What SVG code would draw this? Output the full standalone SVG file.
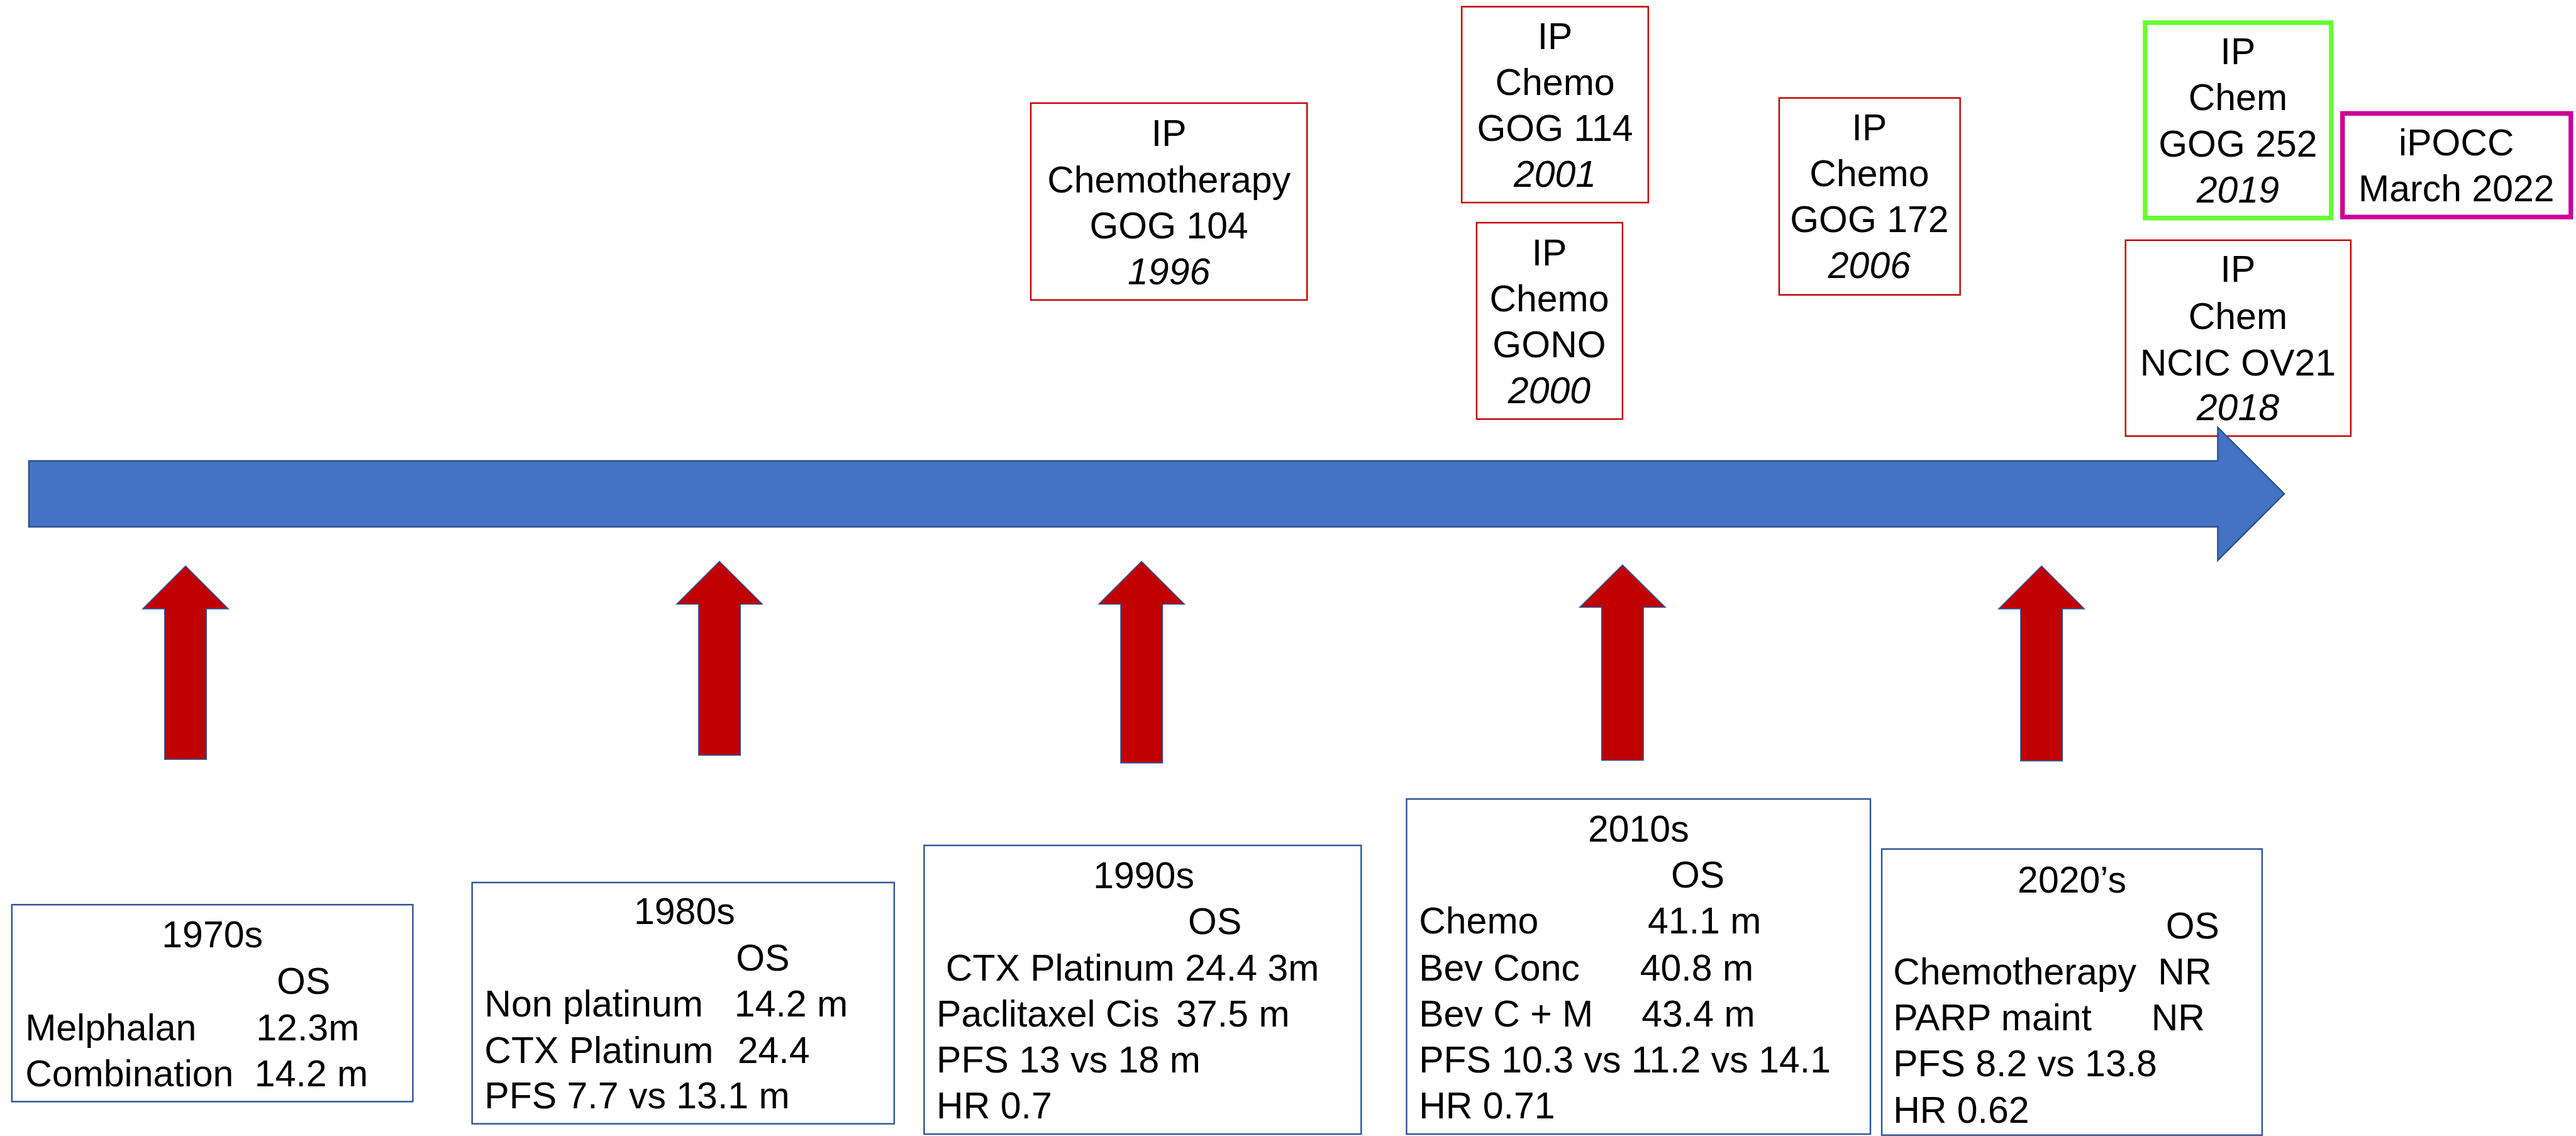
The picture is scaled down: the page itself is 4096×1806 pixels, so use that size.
<svg xmlns="http://www.w3.org/2000/svg" width="4096" height="1806" viewBox="0 0 4096 1806">
<style>
.t{font-family:"Liberation Sans",Arial,sans-serif;font-size:72px;fill:#000}
.m{text-anchor:middle}
.i{font-style:italic}
.rb{fill:#fff;stroke:#C00000;stroke-width:3}
.bb{fill:#fff;stroke:#2F5597;stroke-width:3}
.ra{fill:#C00000;stroke:#2F5597;stroke-width:2;stroke-linejoin:miter}
</style>
<rect width="4096" height="1806" fill="#fff"/>
<g transform="scale(0.819528)">
<g id="ip-gog104">
<rect class="rb" x="2000" y="200" width="536" height="382"/>
<text class="t m" x="2268" y="283">IP</text>
<text class="t m" x="2268" y="373">Chemotherapy</text>
<text class="t m" x="2268" y="462">GOG 104</text>
<text class="t m i" x="2268" y="552">1996</text>
</g>
<g id="ip-gog114">
<rect class="rb" x="2836" y="13" width="362" height="380"/>
<text class="t m" x="3017" y="95">IP</text>
<text class="t m" x="3017" y="184">Chemo</text>
<text class="t m" x="3017" y="273">GOG 114</text>
<text class="t m i" x="3017" y="362">2001</text>
</g>
<g id="ip-gono">
<rect class="rb" x="2865" y="432" width="283" height="381"/>
<text class="t m" x="3006" y="515">IP</text>
<text class="t m" x="3006" y="604">Chemo</text>
<text class="t m" x="3006" y="693">GONO</text>
<text class="t m i" x="3006" y="782">2000</text>
</g>
<g id="ip-gog172">
<rect class="rb" x="3452" y="190" width="351" height="382"/>
<text class="t m" x="3627" y="272">IP</text>
<text class="t m" x="3627" y="361">Chemo</text>
<text class="t m" x="3627" y="450">GOG 172</text>
<text class="t m i" x="3627" y="539">2006</text>
</g>
<g id="ip-gog252">
<rect x="4162" y="44" width="361" height="379" fill="#fff" stroke="#66FF33" stroke-width="9"/>
<text class="t m" x="4342" y="125">IP</text>
<text class="t m" x="4342" y="214">Chem</text>
<text class="t m" x="4342" y="304">GOG 252</text>
<text class="t m i" x="4342" y="393">2019</text>
</g>
<g id="ipocc">
<rect x="4545" y="220" width="443" height="201" fill="#fff" stroke="#CC0099" stroke-width="9"/>
<text class="t m" x="4766" y="302">iPOCC</text>
<text class="t m" x="4766" y="391">March 2022</text>
</g>
<g id="ip-ov21">
<rect class="rb" x="4124" y="466" width="437" height="380"/>
<text class="t m" x="4342" y="547">IP</text>
<text class="t m" x="4342" y="638">Chem</text>
<text class="t m" x="4342" y="728">NCIC OV21</text>
<text class="t m i" x="4342" y="815">2018</text>
</g>
<g id="timeline">
<path d="M56,894 L4303,894 L4303,829 L4432,958 L4303,1087 L4303,1022 L56,1022 Z" fill="#4472C4" stroke="#2F528F" stroke-width="3"/>
</g>
<g id="connectors">
<path class="ra" d="M360,1098 L443,1181 L400.5,1181 L400.5,1473 L319.5,1473 L319.5,1181 L277,1181 Z"/>
<path class="ra" d="M1396,1089 L1479,1172 L1436.5,1172 L1436.5,1465 L1355.5,1465 L1355.5,1172 L1313,1172 Z"/>
<path class="ra" d="M2215,1089 L2298,1172 L2255.5,1172 L2255.5,1480 L2174.5,1480 L2174.5,1172 L2132,1172 Z"/>
<path class="ra" d="M3148,1096 L3231,1178 L3188.5,1178 L3188.5,1475 L3107.5,1475 L3107.5,1178 L3065,1178 Z"/>
<path class="ra" d="M3961,1098 L4044,1181 L4001.5,1181 L4001.5,1476 L3920.5,1476 L3920.5,1181 L3878,1181 Z"/>
</g>
<g id="d1970s">
<rect class="bb" x="23" y="1755" width="778" height="382"/>
<text class="t m" x="412" y="1838">1970s</text>
<text class="t" x="537" y="1928">OS</text>
<text class="t" x="49" y="2018">Melphalan</text>
<text class="t" x="497" y="2018">12.3m</text>
<text class="t" x="49" y="2107">Combination</text>
<text class="t" x="494" y="2107">14.2 m</text>
</g>
<g id="d1980s">
<rect class="bb" x="916" y="1712" width="819" height="468"/>
<text class="t m" x="1328" y="1793">1980s</text>
<text class="t" x="1428" y="1883">OS</text>
<text class="t" x="940" y="1972">Non platinum</text>
<text class="t" x="1425" y="1972">14.2 m</text>
<text class="t" x="940" y="2062">CTX Platinum</text>
<text class="t" x="1431" y="2062">24.4</text>
<text class="t" x="940" y="2150">PFS 7.7 vs 13.1 m</text>
</g>
<g id="d1990s">
<rect class="bb" x="1793" y="1640" width="848" height="560"/>
<text class="t m" x="2219" y="1723">1990s</text>
<text class="t" x="2305" y="1812">OS</text>
<text class="t" x="1835" y="1902">CTX Platinum 24.4 3m</text>
<text class="t" x="1817" y="1991">Paclitaxel Cis</text>
<text class="t" x="2282" y="1991">37.5 m</text>
<text class="t" x="1817" y="2081">PFS 13 vs 18 m</text>
<text class="t" x="1817" y="2170">HR 0.7</text>
</g>
<g id="d2010s">
<rect class="bb" x="2729" y="1550" width="900" height="650"/>
<text class="t m" x="3179" y="1633">2010s</text>
<text class="t" x="3242" y="1722">OS</text>
<text class="t" x="2753" y="1811">Chemo</text>
<text class="t" x="3197" y="1811">41.1 m</text>
<text class="t" x="2753" y="1902">Bev Conc</text>
<text class="t" x="3182" y="1902">40.8 m</text>
<text class="t" x="2753" y="1991">Bev C + M</text>
<text class="t" x="3185" y="1991">43.4 m</text>
<text class="t" x="2753" y="2081">PFS 10.3 vs 11.2 vs 14.1</text>
<text class="t" x="2753" y="2170">HR 0.71</text>
</g>
<g id="d2020s">
<rect class="bb" x="3651" y="1647" width="738" height="555"/>
<text class="t m" x="4020" y="1731">2020’s</text>
<text class="t" x="4202" y="1820">OS</text>
<text class="t" x="3673" y="1910">Chemotherapy</text>
<text class="t" x="4187" y="1910">NR</text>
<text class="t" x="3673" y="1999">PARP maint</text>
<text class="t" x="4174" y="1999">NR</text>
<text class="t" x="3673" y="2088">PFS 8.2 vs 13.8</text>
<text class="t" x="3673" y="2178">HR 0.62</text>
</g>
</g>
</svg>
